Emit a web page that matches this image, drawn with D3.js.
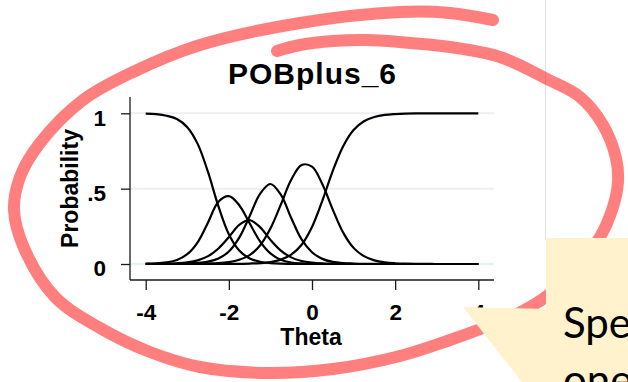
<!DOCTYPE html>
<html>
<head>
<meta charset="utf-8">
<script src="https://cdn.jsdelivr.net/npm/d3@7"></script>
<style>
  body { margin: 0; background: #fff; }
  svg { display: block; }
</style>
</head>
<body>
<div id="container"></div>
<script>
/* DATA */
const theta = [-4, -3.75, -3.5, -3.25, -3, -2.75, -2.5, -2.25, -2, -1.75, -1.5, -1.25, -1, -0.75, -0.5, -0.25,
               0, 0.25, 0.5, 0.75, 1, 1.25, 1.5, 1.75, 2, 2.25, 2.5, 2.75, 3, 3.25, 3.5, 3.75, 4];

// category probability curves
const cat0 = [0.998, 0.994, 0.984, 0.962, 0.908, 0.797, 0.609, 0.382, 0.197, 0.089, 0.037, 0.015, 0.006, 0.002, 0.001, 0,
              0, 0, 0, 0, 0, 0, 0, 0, 0, 0, 0, 0, 0, 0, 0, 0, 0];
const cat1 = [0.002, 0.004, 0.011, 0.027, 0.065, 0.144, 0.276, 0.413, 0.450, 0.390, 0.270, 0.150, 0.070, 0.028, 0.010, 0.004,
              0.001, 0, 0, 0, 0, 0, 0, 0, 0, 0, 0, 0, 0, 0, 0, 0, 0];
const cat2 = [0.001, 0.001, 0.002, 0.005, 0.011, 0.024, 0.052, 0.103, 0.178, 0.260, 0.291, 0.245, 0.160, 0.089, 0.044, 0.020,
              0.009, 0.004, 0.002, 0.001, 0, 0, 0, 0, 0, 0, 0, 0, 0, 0, 0, 0, 0];
const cat3 = [0, 0, 0.001, 0.001, 0.003, 0.007, 0.016, 0.037, 0.083, 0.175, 0.317, 0.466, 0.531, 0.460, 0.305, 0.163,
              0.078, 0.034, 0.014, 0.006, 0.003, 0.001, 0.001, 0, 0, 0, 0, 0, 0, 0, 0, 0, 0];
const cat4 = [0, 0, 0, 0, 0.001, 0.001, 0.003, 0.006, 0.013, 0.028, 0.059, 0.123, 0.235, 0.394, 0.559, 0.657,
              0.646, 0.529, 0.361, 0.208, 0.107, 0.052, 0.024, 0.011, 0.005, 0.002, 0.001, 0.001, 0, 0, 0, 0, 0];
const cat5 = [0, 0, 0, 0, 0, 0, 0, 0, 0.001, 0.001, 0.003, 0.006, 0.013, 0.029, 0.062, 0.128,
              0.246, 0.421, 0.618, 0.782, 0.889, 0.947, 0.975, 0.989, 0.995, 0.998, 0.999, 0.999, 1, 1, 1, 1, 1];

const xTicks = [-4, -2, 0, 2, 4];
const yTicks = [0, 0.5, 1];
const yTickLabels = ["0", ".5", "1"];

const chartTitle = "POBplus_6";
const xTitle = "Theta";
const yTitle = "Probability";
const calloutText = ["Specific", "one"];

/* CONSTANTS */
const width = 628, height = 382;
const plot = { left: 130, right: 494, top: 97, bottom: 280 };
const font = "'Liberation Sans', Arial, sans-serif";

/* SCALES */
const x = d3.scaleLinear().domain([-4, 4]).range([145.7, 478.3]);
const y = d3.scaleLinear().domain([0, 1]).range([264, 113.3]);

/* SVG SETUP */
const svg = d3.select("#container").append("svg")
  .attr("width", width)
  .attr("height", height);

svg.append("rect").attr("width", width).attr("height", height).attr("fill", "#fff");

// slide divider line behind the callout
svg.append("line")
  .attr("x1", 545.5).attr("x2", 545.5)
  .attr("y1", 0).attr("y2", 240)
  .attr("stroke", "#e4e4e4")
  .attr("stroke-width", 1);

/* GRIDLINES */
svg.append("g")
  .selectAll("line")
  .data(yTicks)
  .join("line")
    .attr("x1", plot.left)
    .attr("x2", plot.right)
    .attr("y1", d => y(d))
    .attr("y2", d => y(d))
    .attr("stroke", "#e8f0f2")
    .attr("stroke-width", 2);

/* CURVES */
const line = d3.line()
  .x((d, i) => x(theta[i]))
  .y(d => y(d))
  .curve(d3.curveCatmullRom.alpha(0.5));

svg.append("g")
  .selectAll("path")
  .data([cat0, cat1, cat2, cat3, cat4, cat5])
  .join("path")
    .attr("d", line)
    .attr("fill", "none")
    .attr("stroke", "#000")
    .attr("stroke-width", 2.2)
    .attr("stroke-linejoin", "round");

/* AXES */
const axisColor = "#1a1a1a";

svg.append("line")
  .attr("x1", plot.left).attr("x2", plot.left)
  .attr("y1", plot.top).attr("y2", plot.bottom)
  .attr("stroke", axisColor).attr("stroke-width", 1.3);

svg.append("line")
  .attr("x1", plot.left).attr("x2", plot.right)
  .attr("y1", plot.bottom).attr("y2", plot.bottom)
  .attr("stroke", axisColor).attr("stroke-width", 1.3);

const yAxis = svg.append("g")
  .attr("transform", `translate(${plot.left},0)`)
  .call(d3.axisLeft(y)
    .tickValues(yTicks)
    .tickSize(9)
    .tickPadding(15)
    .tickFormat((d, i) => yTickLabels[i]));

const xAxis = svg.append("g")
  .attr("transform", `translate(0,${plot.bottom})`)
  .call(d3.axisBottom(x)
    .tickValues(xTicks)
    .tickSize(10)
    .tickPadding(9)
    .tickFormat(d3.format("d")));

[yAxis, xAxis].forEach(g => {
  g.select(".domain").remove();
  g.selectAll(".tick line").attr("stroke", axisColor).attr("stroke-width", 1.3);
  g.selectAll(".tick text")
    .attr("fill", "#000")
    .style("font-family", font)
    .style("font-weight", "bold")
    .style("font-size", "22.5px");
});
yAxis.selectAll(".tick text").attr("dy", "0.52em");
xAxis.selectAll(".tick text").attr("dy", "0.95em").text(d => d < 0 ? "-" + Math.abs(d) : d);

/* TITLES */
svg.append("text")
  .attr("x", 312.5)
  .attr("y", 83.5)
  .attr("text-anchor", "middle")
  .style("font-family", font)
  .style("font-weight", "bold")
  .style("font-size", "30px")
  .style("letter-spacing", "1px")
  .text(chartTitle);

svg.append("text")
  .attr("x", 311)
  .attr("y", 345)
  .attr("text-anchor", "middle")
  .style("font-family", font)
  .style("font-weight", "bold")
  .style("font-size", "23px")
  .text(xTitle);

svg.append("text")
  .attr("transform", "translate(78,188.5) rotate(-90)")
  .attr("text-anchor", "middle")
  .style("font-family", font)
  .style("font-weight", "bold")
  .style("font-size", "23px")
  .text(yTitle);

/* HAND-DRAWN HIGHLIGHT */
const ring = [[277, 51], [300, 45], [333, 41], [367, 40], [400, 42], [450, 47], [500, 57], [547, 79], [580, 97],
  [603, 125], [616, 158], [618, 182], [613, 207], [600, 237], [578, 265], [547, 296], [515, 315], [483, 328],
  [450, 340], [400, 356], [333, 369], [267, 373], [200, 367], [150, 352], [100, 328], [55, 297], [24, 248],
  [14, 210], [20, 177], [40, 143], [83, 100], [133, 72], [200, 45], [300, 23], [400, 12], [450, 13], [493, 20]];

svg.append("path")
  .attr("d", d3.line().curve(d3.curveCatmullRom.alpha(0.5))(ring))
  .attr("fill", "none")
  .attr("stroke", "#ff0000")
  .attr("stroke-opacity", 0.5)
  .attr("stroke-width", 12)
  .attr("stroke-linecap", "round")
  .attr("stroke-linejoin", "round");

/* CALLOUT */
const callout = [[546, 238], [640, 238], [640, 400], [536, 400], [463, 307], [546, 309]];
svg.append("path")
  .attr("d", d3.line()(callout) + "Z")
  .attr("fill", "#fff2cc");

svg.append("g")
  .selectAll("text")
  .data(calloutText)
  .join("text")
    .attr("x", 563)
    .attr("y", (d, i) => 338 + i * 57)
    .style("font-family", "Lato, 'Open Sans', sans-serif")
    .style("font-size", "42px")
    .attr("fill", "#000")
    .text(d => d);
</script>
</body>
</html>
